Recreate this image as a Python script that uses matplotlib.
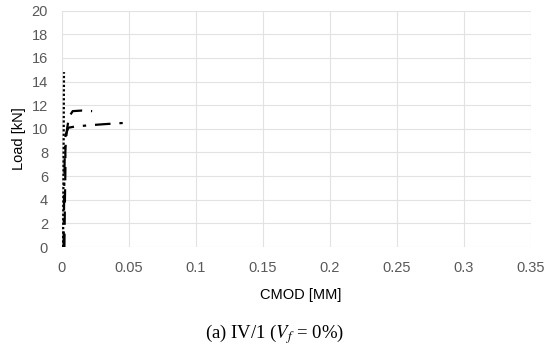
import matplotlib
matplotlib.use("Agg")
import matplotlib.pyplot as plt
import numpy as np

# CMOD [mm] and load [kN] for the three specimens
cmod_dot = [0.0008, 0.0009, 0.0010, 0.0011, 0.0012, 0.0013, 0.0014, 0.0015]
load_dot = [0.0, 2.0, 4.0, 6.0, 8.0, 10.0, 12.5, 14.8]

cmod_dash = [0.0018, 0.0020, 0.0022, 0.0024, 0.0026, 0.0025, 0.0029, 0.0038, 0.0052, 0.0080, 0.0150, 0.0225]
load_dash = [0.0, 2.0, 4.0, 5.5, 7.0, 8.0, 9.0, 10.0, 11.0, 11.5, 11.55, 11.5]

cmod_dashdot = [0.0012, 0.0014, 0.0016, 0.0018, 0.0020, 0.0022, 0.0027, 0.0048, 0.0100, 0.0200, 0.0320, 0.0460]
load_dashdot = [0.0, 2.0, 4.0, 6.0, 7.5, 8.5, 9.5, 10.1, 10.2, 10.3, 10.4, 10.5]

xticks = [0, 0.05, 0.1, 0.15, 0.2, 0.25, 0.3, 0.35]
xticklabels = ["0", "0.05", "0.1", "0.15", "0.2", "0.25", "0.3", "0.35"]
yticks = np.arange(0, 21, 2)

plt.rcParams['font.family'] = ['Liberation Sans', 'DejaVu Sans']
plt.rcParams['mathtext.fontset'] = 'stix'

fig = plt.figure(figsize=(5.5, 3.45), dpi=100)
ax = fig.add_axes([0.1127, 0.284, 0.8527, 0.685])

ax.plot(cmod_dot, load_dot, color="black", linestyle=(0, (1, 1)), linewidth=1.6)
ax.plot(cmod_dash, load_dash, color="black", linestyle=(0, (6, 4)), linewidth=1.6)
ax.plot(cmod_dashdot, load_dashdot, color="black", linestyle=(0, (7, 4, 1.5, 4)), linewidth=1.6)

ax.set_xlim(0, 0.35)
ax.set_ylim(0, 20)
ax.set_xticks(xticks)
ax.set_xticklabels(xticklabels)
ax.set_yticks(yticks)
ax.grid(True, color="#e2e2e2", linewidth=0.8)
ax.set_axisbelow(True)
for s in ax.spines.values():
    s.set_visible(False)
ax.tick_params(length=0, labelsize=10.5, colors="#595959", pad=10)

ax.set_xlabel("CMOD [MM]", fontsize=10.5)
ax.set_ylabel("Load [kN]", fontsize=10.5)
ax.xaxis.set_label_coords(0.51, -0.175)
ax.yaxis.set_label_coords(-0.077, 0.46)

fig.text(0.5, 0.032, r"(a) IV/1 ($V_f$ = 0%)", ha="center", va="center",
         fontsize=13.5, family=['Liberation Serif', 'DejaVu Serif'])

fig.savefig("out.png", dpi=100)
